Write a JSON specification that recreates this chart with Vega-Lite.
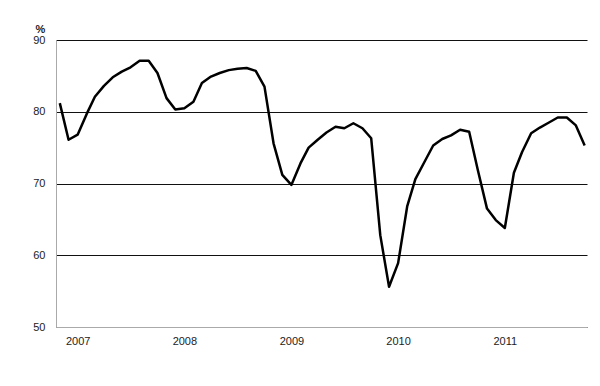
{
  "$schema": "https://vega.github.io/schema/vega-lite/v6.json",
  "width": 531,
  "height": 287,
  "autosize": {"type": "none"},
  "padding": {"left": 56, "top": 40, "right": 13, "bottom": 59},
  "background": "white",
  "config": {"view": {"stroke": null}, "font": "Liberation Sans"},
  "data": {
    "values": [
      {"date": "2006-11-01", "v": 81.2},
      {"date": "2006-12-01", "v": 76.1},
      {"date": "2007-01-01", "v": 76.8},
      {"date": "2007-02-01", "v": 79.7},
      {"date": "2007-03-01", "v": 82.1},
      {"date": "2007-04-01", "v": 83.6},
      {"date": "2007-05-01", "v": 84.8},
      {"date": "2007-06-01", "v": 85.6},
      {"date": "2007-07-01", "v": 86.2},
      {"date": "2007-08-01", "v": 87.1},
      {"date": "2007-09-01", "v": 87.1},
      {"date": "2007-10-01", "v": 85.4},
      {"date": "2007-11-01", "v": 81.9},
      {"date": "2007-12-01", "v": 80.3},
      {"date": "2008-01-01", "v": 80.5},
      {"date": "2008-02-01", "v": 81.4},
      {"date": "2008-03-01", "v": 84.0},
      {"date": "2008-04-01", "v": 84.9},
      {"date": "2008-05-01", "v": 85.4},
      {"date": "2008-06-01", "v": 85.8},
      {"date": "2008-07-01", "v": 86.0},
      {"date": "2008-08-01", "v": 86.1},
      {"date": "2008-09-01", "v": 85.7},
      {"date": "2008-10-01", "v": 83.5},
      {"date": "2008-11-01", "v": 75.6},
      {"date": "2008-12-01", "v": 71.2},
      {"date": "2009-01-01", "v": 69.8},
      {"date": "2009-02-01", "v": 72.8},
      {"date": "2009-03-01", "v": 75.0},
      {"date": "2009-04-01", "v": 76.1},
      {"date": "2009-05-01", "v": 77.1},
      {"date": "2009-06-01", "v": 77.9},
      {"date": "2009-07-01", "v": 77.7},
      {"date": "2009-08-01", "v": 78.4},
      {"date": "2009-09-01", "v": 77.7},
      {"date": "2009-10-01", "v": 76.3},
      {"date": "2009-11-01", "v": 62.8},
      {"date": "2009-12-01", "v": 55.6},
      {"date": "2010-01-01", "v": 58.9},
      {"date": "2010-02-01", "v": 66.8},
      {"date": "2010-03-01", "v": 70.6},
      {"date": "2010-04-01", "v": 73.0},
      {"date": "2010-05-01", "v": 75.3},
      {"date": "2010-06-01", "v": 76.2},
      {"date": "2010-07-01", "v": 76.7},
      {"date": "2010-08-01", "v": 77.5},
      {"date": "2010-09-01", "v": 77.2},
      {"date": "2010-10-01", "v": 71.8},
      {"date": "2010-11-01", "v": 66.5},
      {"date": "2010-12-01", "v": 64.9},
      {"date": "2011-01-01", "v": 63.8},
      {"date": "2011-02-01", "v": 71.5},
      {"date": "2011-03-01", "v": 74.4},
      {"date": "2011-04-01", "v": 77.0},
      {"date": "2011-05-01", "v": 77.8},
      {"date": "2011-06-01", "v": 78.5},
      {"date": "2011-07-01", "v": 79.2},
      {"date": "2011-08-01", "v": 79.2},
      {"date": "2011-09-01", "v": 78.1},
      {"date": "2011-10-01", "v": 75.3}
    ],
    "format": {"parse": {"date": "date:'%Y-%m-%d'"}}
  },
  "mark": {"type": "line", "color": "black", "strokeWidth": 2.5, "strokeJoin": "round", "clip": false},
  "encoding": {
    "x": {
      "field": "date",
      "type": "temporal",
      "scale": {"domain": [{"year": 2006, "month": 10, "date": 19}, {"year": 2011, "month": 10, "date": 9}]},
      "axis": {
        "title": null,
        "values": [{"year": 2007}, {"year": 2008}, {"year": 2009}, {"year": 2010}, {"year": 2011}],
        "format": "%Y",
        "grid": false,
        "ticks": false,
        "domainColor": "#aaaaaa",
        "domainWidth": 1,
        "labelFontSize": 11,
        "labelColor": "#222222",
        "labelPadding": 8,
        "labelAlign": "center",
        "labelBaseline": "top",
        "zindex": 1
      }
    },
    "y": {
      "field": "v",
      "type": "quantitative",
      "scale": {"domain": [50, 90], "nice": false, "zero": false},
      "axis": {
        "values": [50, 60, 70, 80, 90],
        "title": "%",
        "titleAngle": 0,
        "titleX": -16,
        "titleY": -6,
        "titleAlign": "center",
        "titleBaseline": "bottom",
        "titleFontSize": 11,
        "titleFontWeight": "bold",
        "titleColor": "#222222",
        "grid": true,
        "gridColor": "#111111",
        "gridWidth": 1.2,
        "ticks": false,
        "domainColor": "#aaaaaa",
        "domainWidth": 1,
        "labelFontSize": 11,
        "labelColor": "#222222",
        "labelPadding": 11
      }
    }
  }
}
